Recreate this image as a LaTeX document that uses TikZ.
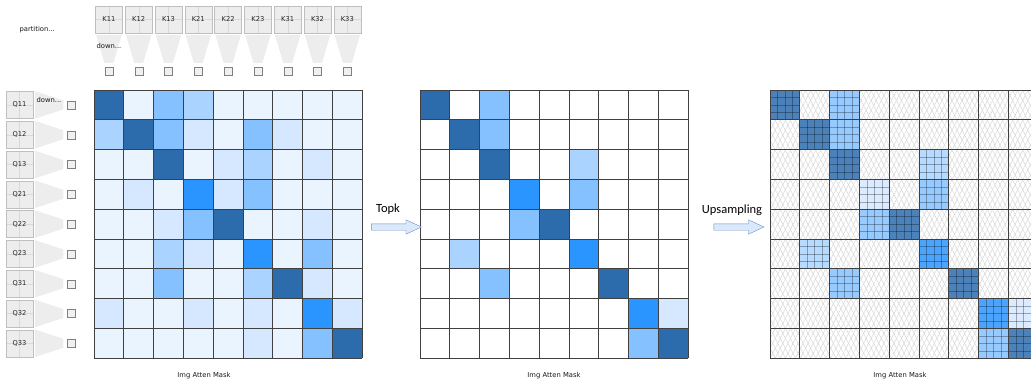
\documentclass[tikz,border=0pt]{standalone}
\usepackage{fontspec}
\setmainfont{Carlito}
\newfontfamily\notefont{DejaVu Sans}
\usetikzlibrary{
  calc, % Koordinatenrechnung
  shapes.arrows, % Blockpfeile
  patterns.meta % Schraffur
}

\definecolor{cD}{HTML}{2C6CAD}
\definecolor{cB}{HTML}{2B95FF}
\definecolor{cM}{HTML}{85C1FF}
\definecolor{cL}{HTML}{AAD3FF}
\definecolor{cP}{HTML}{D6E8FF}
\definecolor{cW}{HTML}{EAF4FF}
\definecolor{arrowfill}{HTML}{DAE8FC}
\definecolor{arrowline}{HTML}{6C8EBF}

\begin{document}
\begin{tikzpicture}[
      x=1pt, y=-1pt,
      kbox/.style={draw=black!25, fill=black!7, minimum width=27pt,
        minimum height=27pt, inner sep=0pt, text=black!85,
        font=\notefont\fontsize{6.7}{8}\selectfont,
        path picture={\draw[black!15]
          (path picture bounding box.north) -- (path picture bounding box.south)
          (path picture bounding box.west) -- (path picture bounding box.east);}},
      sbox/.style={draw=black!50, fill=black!6, minimum size=8pt, inner sep=0pt},
      funnel/.style={fill=black!7},
      gridline/.style={black!75, line width=0.8pt},
      subline/.style={black, opacity=0.3, line width=0.5pt},
      blockarrow/.style={single arrow, draw=arrowline, fill=arrowfill,
        minimum height=50pt, inner sep=3pt, single arrow head extend=4pt,
        single arrow tip angle=50},
      smalltext/.style={font=\notefont\fontsize{6.8}{8}\selectfont, text=black!90},
      steplabel/.style={font=\fontsize{12.5}{14}\selectfont},
    ]
    \useasboundingbox (0,0) rectangle (1031,383);

    % Größen
    \def\cs{29.8}

    % Koordinaten der Masken
    \coordinate (M1) at (94,90);
    \coordinate (M2) at (420,90);
    \coordinate (M3) at (770,90);

    % K-Blöcke oben
    \node[smalltext, anchor=west] (part) at (16,30) {partition...};
    \foreach \n [count=\j] in {11,12,13,21,22,23,31,32,33} {
      \node[kbox] (k\n) at ({94+(\j-0.5)*\cs},19.5) {K\n};
      \node[sbox] (ks\n) at ({94+(\j-0.5)*\cs},71) {};
      \fill[funnel] ($(k\n.south west)+(1,2)$) -- ($(k\n.south east)+(-1,2)$)
        -- ($(ks\n.north)+(4.5,-4)$) -- ($(ks\n.north)+(-4.5,-4)$) -- cycle;
    }
    \node[smalltext, anchor=west] (kdown) at (93,46) {down...};

    % Q-Blöcke links
    \foreach \n [count=\j] in {11,12,13,21,22,23,31,32,33} {
      \node[kbox] (q\n) at (19.5,{90+(\j-0.5)*\cs}) {Q\n};
      \node[sbox] (qs\n) at (71.5,{90+(\j-0.5)*\cs}) {};
      \fill[funnel] ($(q\n.north east)+(2,0)$) -- ($(qs\n.west)+(-4,-4.5)$)
        -- ($(qs\n.west)+(-4,4.5)$) -- ($(q\n.south east)+(2,0)$) -- cycle;
    }
    \node[smalltext, anchor=west] (qdown) at (33,100) {down...};

    % Maske 1
    \fill[cW] (M1) rectangle ++({9*\cs},{9*\cs});
    \foreach \r/\c/\f in {1/1/cD, 1/3/cM, 1/4/cL,
        2/1/cL, 2/2/cD, 2/3/cM, 2/4/cP, 2/6/cM, 2/7/cP,
        3/3/cD, 3/5/cP, 3/6/cL, 3/8/cP,
        4/2/cP, 4/4/cB, 4/5/cP, 4/6/cM,
        5/3/cP, 5/4/cM, 5/5/cD, 5/8/cP,
        6/3/cL, 6/4/cP, 6/6/cB, 6/8/cM,
        7/3/cM, 7/6/cL, 7/7/cD, 7/8/cP,
        8/1/cP, 8/4/cP, 8/6/cP, 8/8/cB, 8/9/cP,
        9/6/cP, 9/8/cM, 9/9/cD}
      \fill[\f] ($(M1)+({(\c-1)*\cs},{(\r-1)*\cs})$) rectangle ++(\cs,\cs);

    % Maske 2
    \foreach \r/\c/\f in {1/1/cD, 1/3/cM, 2/2/cD, 2/3/cM, 3/3/cD, 3/6/cL,
        4/4/cB, 4/6/cM, 5/4/cM, 5/5/cD, 6/2/cL, 6/6/cB,
        7/3/cM, 7/7/cD, 8/8/cB, 8/9/cP, 9/8/cM, 9/9/cD}
      \fill[\f] ($(M2)+({(\c-1)*\cs},{(\r-1)*\cs})$) rectangle ++(\cs,\cs);

    % Maske 3 mit Schraffur
    \fill[pattern={Lines[angle=63,distance=4.5pt,line width=0.5pt]}, pattern color=black!16]
      (M3) rectangle ++({9*\cs},{9*\cs});
    \fill[pattern={Lines[angle=-63,distance=4.5pt,line width=0.5pt]}, pattern color=black!16]
      (M3) rectangle ++({9*\cs},{9*\cs});
    \foreach \r/\c/\f in {1/1/cD, 1/3/cM, 2/2/cD, 2/3/cM, 3/3/cD, 3/6/cL,
        4/4/cP, 4/6/cM, 5/4/cM, 5/5/cD, 6/2/cL, 6/6/cB,
        7/3/cM, 7/7/cD, 8/8/cB, 8/9/cP, 9/8/cM, 9/9/cD} {
      \fill[\f!85] ($(M3)+({(\c-1)*\cs},{(\r-1)*\cs})$) rectangle ++(\cs,\cs);
      \foreach \k in {1,2,3} {
        \draw[subline] ($(M3)+({(\c-1+\k/4)*\cs},{(\r-1)*\cs})$) -- ++(0,\cs);
        \draw[subline] ($(M3)+({(\c-1)*\cs},{(\r-1+\k/4)*\cs})$) -- ++(\cs,0);
      }
    }

    % Gitter
    \foreach \m in {M1,M2,M3}
      \foreach \i in {0,...,9} {
        \draw[gridline] ($(\m)+({\i*\cs},0)$) -- ++(0,{9*\cs});
        \draw[gridline] ($(\m)+(0,{\i*\cs})$) -- ++({9*\cs},0);
      }

    % Pfeile
    \node[blockarrow] (topk) at (393,227) {};
    \node[steplabel] (topklabel) at (388,209) {Topk};
    \node[blockarrow] (upsamp) at (735.5,227) {};
    \node[steplabel] (upsamplabel) at (732,210) {Upsampling};

    % Beschriftungen
    \node[smalltext] (cap1) at (204,376) {Img Atten Mask};
    \node[smalltext] (cap2) at (554,376) {Img Atten Mask};
    \node[smalltext] (cap3) at (900,376) {Img Atten Mask};

  \end{tikzpicture}
\end{document}
